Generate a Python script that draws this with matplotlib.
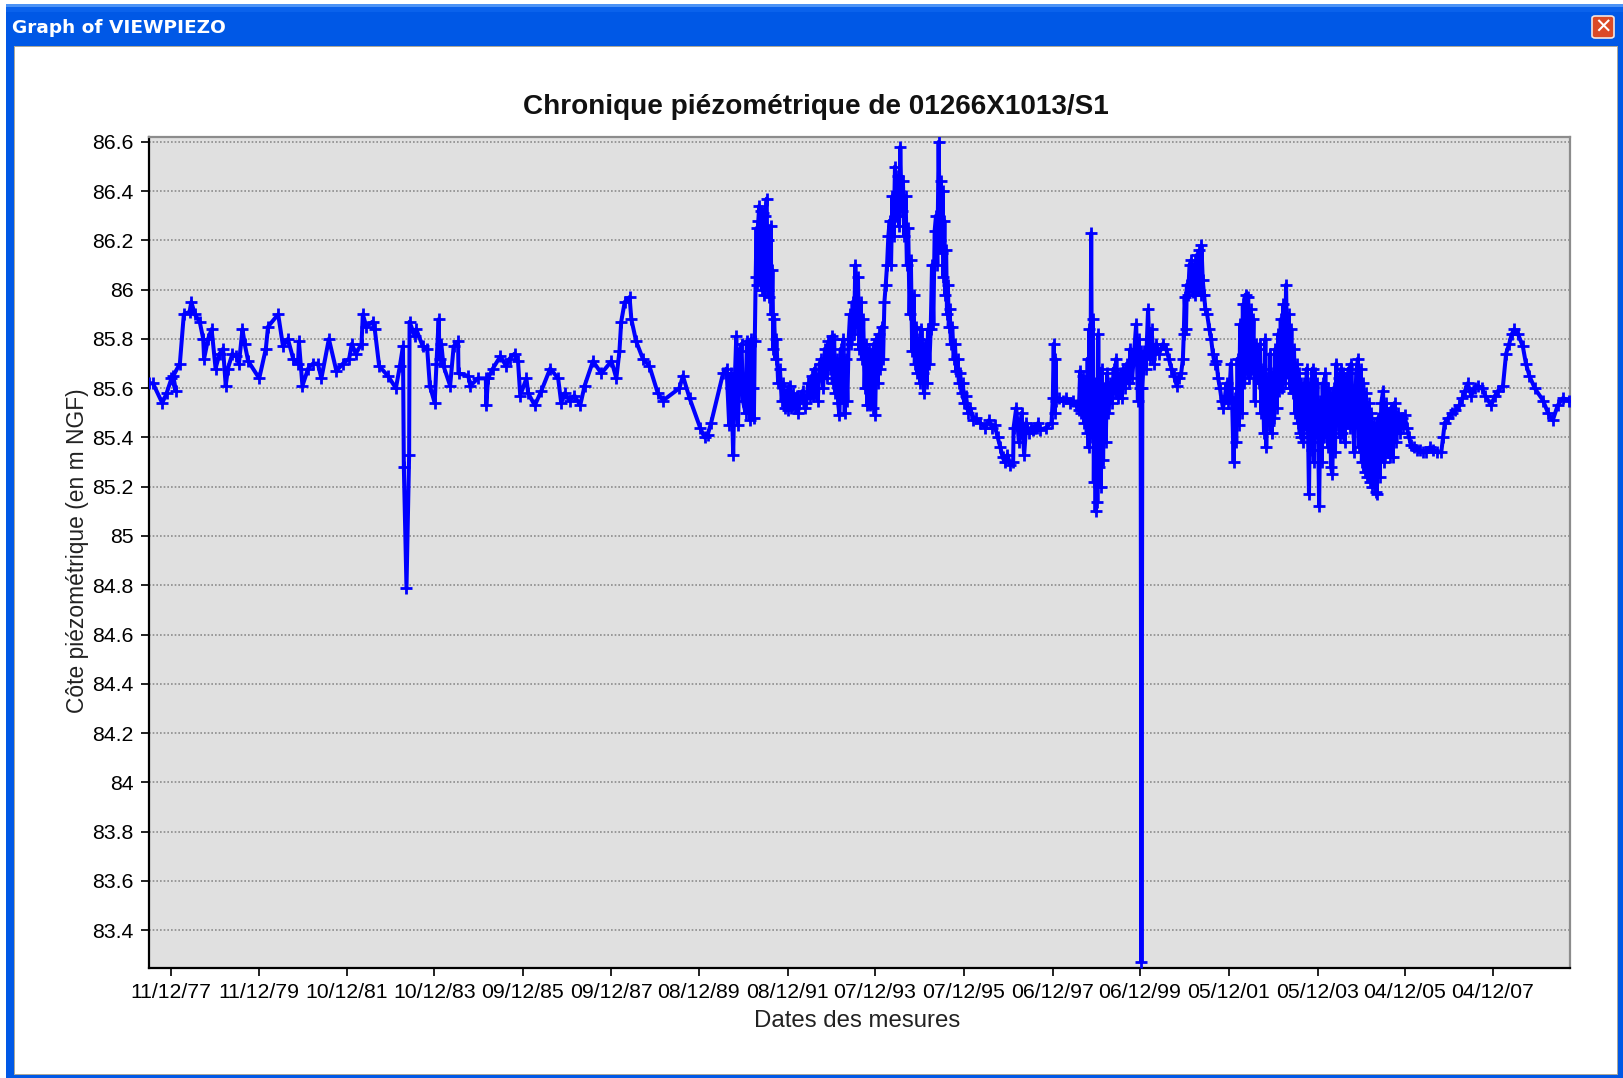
import matplotlib
matplotlib.use("Agg")
import matplotlib.pyplot as plt
from matplotlib.patches import Rectangle, FancyBboxPatch

# Water level readings (decimal year, m NGF)
years_1977 = [1977.45, 1977.54, 1977.75, 1977.85, 1977.96, 1978.06, 1978.0, 1978.15, 1978.24, 1978.37, 1978.41, 1978.49, 1978.60, 1978.68, 1978.70, 1978.79, 1978.87, 1978.96, 1979.05, 1979.13, 1979.19, 1979.24, 1979.34, 1979.43, 1979.49, 1979.57, 1979.62, 1979.70, 1979.95, 1980.10, 1980.15, 1980.38, 1980.49, 1980.60, 1980.72, 1980.83, 1980.85, 1980.93, 1981.06, 1981.17, 1981.28, 1981.36, 1981.53, 1981.70, 1981.85, 1981.99, 1982.05, 1982.14, 1982.27, 1982.30, 1982.38, 1982.52, 1982.57, 1982.67, 1982.87, 1983.05, 1983.14, 1983.21, 1983.23, 1983.29, 1983.35, 1983.36, 1983.48, 1983.51, 1983.66, 1983.76, 1983.82, 1983.93, 1983.97, 1984.02, 1984.04, 1984.08, 1984.13, 1984.28, 1984.36, 1984.46, 1984.47, 1984.69, 1984.74, 1984.91, 1985.09, 1985.10, 1985.14, 1985.25, 1985.42, 1985.55, 1985.63, 1985.74, 1985.82, 1985.87, 1986.01, 1986.05, 1986.20, 1986.35, 1986.55, 1986.73, 1986.80, 1986.88, 1986.99, 1987.10, 1987.23, 1987.33, 1987.52, 1987.71, 1987.94, 1988.05, 1988.12, 1988.16, 1988.24, 1988.35, 1988.39, 1988.50, 1988.65, 1988.80, 1988.99]
levels_1977 = [85.62, 85.62, 85.54, 85.58, 85.64, 85.59, 85.65, 85.70, 85.90, 85.91, 85.95, 85.90, 85.87, 85.80, 85.72, 85.80, 85.84, 85.68, 85.74, 85.76, 85.61, 85.68, 85.74, 85.73, 85.70, 85.84, 85.78, 85.71, 85.64, 85.76, 85.85, 85.90, 85.77, 85.80, 85.72, 85.70, 85.79, 85.61, 85.68, 85.70, 85.70, 85.64, 85.80, 85.67, 85.70, 85.72, 85.78, 85.74, 85.78, 85.90, 85.85, 85.87, 85.84, 85.69, 85.65, 85.60, 85.69, 85.77, 85.28, 84.79, 85.33, 85.87, 85.81, 85.84, 85.77, 85.76, 85.61, 85.54, 85.70, 85.88, 85.72, 85.78, 85.69, 85.61, 85.77, 85.79, 85.66, 85.65, 85.61, 85.64, 85.64, 85.53, 85.64, 85.68, 85.73, 85.69, 85.72, 85.74, 85.71, 85.57, 85.64, 85.58, 85.53, 85.59, 85.68, 85.64, 85.54, 85.58, 85.55, 85.57, 85.53, 85.61, 85.71, 85.66, 85.71, 85.64, 85.75, 85.87, 85.95, 85.97, 85.88, 85.79, 85.72, 85.69, 85.58]

years_1989 = [1989.11, 1989.48, 1989.56, 1989.71, 1989.95, 1990.05, 1990.12, 1990.20, 1990.47, 1990.55, 1990.61, 1990.64, 1990.66, 1990.70, 1990.73, 1990.77, 1990.81, 1990.85, 1990.89, 1990.92, 1990.98, 1991.01, 1991.06, 1991.09, 1991.11, 1991.15, 1991.17, 1991.19, 1991.21, 1991.23, 1991.25, 1991.27, 1991.29, 1991.31, 1991.33, 1991.35, 1991.37, 1991.39, 1991.41, 1991.43, 1991.46, 1991.48, 1991.50, 1991.52, 1991.55, 1991.57, 1991.59, 1991.61, 1991.63, 1991.66, 1991.68, 1991.72, 1991.76, 1991.80, 1991.84, 1991.88, 1991.92, 1991.94, 1991.98, 1992.02, 1992.06, 1992.10, 1992.14, 1992.17, 1992.22, 1992.28, 1992.32, 1992.36, 1992.40, 1992.44, 1992.48, 1992.51, 1992.55, 1992.58, 1992.62, 1992.66, 1992.70, 1992.74, 1992.78, 1992.82, 1992.86, 1992.90, 1992.93, 1992.96, 1992.99, 1993.02, 1993.05, 1993.08, 1993.11, 1993.14, 1993.17, 1993.20, 1993.23, 1993.26, 1993.29, 1993.32, 1993.35, 1993.38, 1993.41, 1993.44, 1993.47, 1993.50, 1993.53, 1993.56, 1993.59, 1993.62, 1993.65, 1993.68, 1993.71, 1993.74, 1993.77, 1993.80, 1993.83, 1993.86, 1993.89, 1993.92, 1993.95, 1993.98, 1994.01, 1994.04, 1994.07, 1994.10, 1994.13, 1994.16, 1994.19, 1994.22, 1994.25, 1994.28, 1994.31, 1994.34, 1994.37, 1994.40, 1994.43, 1994.46, 1994.49, 1994.52, 1994.55, 1994.58, 1994.61, 1994.64, 1994.67, 1994.70, 1994.73, 1994.76, 1994.79, 1994.82, 1994.85, 1994.88, 1994.91, 1994.94, 1994.97, 1995.00, 1995.03, 1995.06, 1995.09, 1995.12, 1995.15, 1995.18, 1995.21, 1995.24, 1995.27, 1995.30, 1995.33, 1995.36, 1995.39, 1995.41, 1995.43, 1995.45, 1995.47, 1995.49, 1995.51, 1995.53, 1995.55, 1995.57, 1995.59, 1995.61, 1995.64, 1995.67, 1995.70, 1995.73, 1995.76, 1995.79, 1995.82, 1995.85, 1995.88, 1995.91, 1995.94, 1995.98, 1996.03, 1996.08, 1996.14, 1996.20, 1996.30, 1996.42, 1996.50, 1996.58, 1996.63, 1996.70, 1996.76, 1996.81, 1996.86, 1996.92, 1996.98, 1997.05, 1997.06, 1997.12, 1997.18, 1997.24, 1997.30, 1997.35, 1997.40, 1997.46, 1997.50, 1997.54, 1997.58, 1997.62]
levels_1989 = [85.55, 85.60, 85.65, 85.56, 85.44, 85.40, 85.41, 85.46, 85.66, 85.68, 85.45, 85.66, 85.60, 85.33, 85.60, 85.81, 85.45, 85.75, 85.78, 85.55, 85.50, 85.79, 85.55, 85.47, 85.80, 85.60, 85.48, 85.79, 86.05, 86.25, 86.02, 86.28, 86.34, 86.06, 86.32, 86.00, 86.31, 86.10, 85.98, 86.30, 86.37, 86.00, 86.20, 85.97, 86.26, 85.90, 86.08, 85.76, 85.88, 85.72, 85.80, 85.62, 85.68, 85.55, 85.62, 85.52, 85.59, 85.51, 85.61, 85.52, 85.58, 85.52, 85.57, 85.50, 85.56, 85.59, 85.52, 85.54, 85.62, 85.56, 85.65, 85.57, 85.68, 85.60, 85.55, 85.70, 85.72, 85.60, 85.76, 85.64, 85.79, 85.68, 85.81, 85.62, 85.80, 85.58, 85.72, 85.54, 85.49, 85.76, 85.56, 85.80, 85.50, 85.72, 85.55, 85.80, 85.90, 85.78, 85.95, 85.82, 86.10, 85.85, 86.05, 85.76, 85.95, 85.72, 85.88, 85.60, 85.78, 85.53, 85.76, 85.53, 85.74, 85.52, 85.78, 85.49, 85.80, 85.62, 85.82, 85.68, 85.85, 85.72, 85.95, 86.02, 86.10, 86.22, 86.28, 86.10, 86.38, 86.22, 86.50, 86.30, 86.46, 86.26, 86.58, 86.32, 86.44, 86.22, 86.38, 86.10, 86.25, 85.90, 86.12, 85.75, 85.98, 85.70, 85.85, 85.66, 85.80, 85.62, 85.84, 85.66, 85.58, 85.78, 85.62, 85.84, 85.70, 85.84, 86.10, 85.86, 86.24, 86.30, 86.10, 86.60, 86.20, 86.44, 86.15, 86.40, 86.05, 86.28, 85.98, 86.16, 85.90, 86.02, 85.85, 85.92, 85.78, 85.85, 85.72, 85.78, 85.67, 85.72, 85.62, 85.66, 85.58, 85.62, 85.54, 85.57, 85.50, 85.52, 85.47, 85.48, 85.46, 85.44, 85.47, 85.44, 85.45, 85.40, 85.36, 85.32, 85.30, 85.33, 85.29, 85.30, 85.44, 85.52, 85.38, 85.50, 85.33, 85.46, 85.42, 85.44, 85.43, 85.44, 85.44, 85.46]

years_1997 = [1997.65, 1997.80, 1997.92, 1997.95, 1997.97, 1997.99, 1998.01, 1998.03, 1998.10, 1998.18, 1998.26, 1998.34, 1998.41, 1998.48, 1998.54, 1998.57, 1998.60, 1998.63, 1998.66, 1998.69, 1998.72, 1998.74, 1998.76, 1998.78, 1998.80, 1998.82, 1998.84, 1998.86, 1998.88, 1998.90, 1998.92, 1998.94, 1998.96, 1998.98, 1999.00, 1999.02, 1999.04, 1999.06, 1999.09, 1999.12, 1999.15, 1999.18, 1999.21, 1999.25, 1999.29, 1999.33, 1999.36, 1999.39, 1999.43, 1999.47, 1999.51, 1999.55, 1999.59, 1999.63, 1999.67, 1999.71, 1999.75, 1999.79, 1999.84, 1999.88, 1999.90, 1999.92, 1999.94, 1999.96, 1999.98, 2000.02, 2000.06, 2000.11, 2000.15, 2000.19, 2000.24, 2000.30, 2000.36, 2000.45, 2000.52, 2000.58, 2000.64, 2000.70, 2000.76, 2000.81, 2000.86, 2000.90, 2000.92, 2000.94, 2000.97, 2000.99, 2001.02, 2001.05, 2001.09, 2001.12, 2001.15, 2001.18, 2001.21, 2001.24, 2001.27, 2001.30, 2001.32, 2001.35, 2001.38, 2001.41, 2001.45, 2001.50, 2001.54, 2001.58, 2001.62, 2001.66, 2001.70, 2001.74, 2001.78, 2001.81, 2001.85, 2001.89, 2001.93, 2001.96, 2001.99, 2002.02, 2002.05, 2002.08, 2002.11, 2002.14, 2002.17, 2002.20, 2002.23, 2002.26, 2002.29, 2002.32, 2002.35, 2002.38, 2002.41, 2002.44, 2002.47, 2002.50, 2002.53, 2002.56, 2002.59, 2002.62, 2002.65, 2002.68, 2002.71, 2002.74, 2002.77, 2002.79, 2002.82, 2002.85, 2002.88, 2002.91, 2002.94, 2002.97, 2003.00, 2003.03, 2003.06, 2003.09, 2003.12, 2003.15, 2003.18, 2003.21, 2003.24, 2003.27, 2003.30, 2003.33, 2003.36, 2003.39, 2003.42, 2003.45, 2003.48, 2003.51, 2003.53, 2003.55, 2003.57, 2003.59, 2003.61, 2003.63]
levels_1997 = [85.43, 85.44, 85.46, 85.56, 85.78, 85.50, 85.72, 85.55, 85.56, 85.55, 85.56, 85.54, 85.55, 85.53, 85.51, 85.67, 85.50, 85.65, 85.46, 85.62, 85.42, 85.72, 85.36, 85.84, 85.48, 86.23, 85.40, 85.88, 85.22, 85.62, 85.10, 85.58, 85.14, 85.82, 85.28, 85.55, 85.20, 85.68, 85.31, 85.60, 85.38, 85.66, 85.50, 85.62, 85.54, 85.68, 85.58, 85.72, 85.56, 85.66, 85.56, 85.68, 85.60, 85.70, 85.62, 85.76, 85.64, 85.74, 85.86, 85.55, 85.80, 85.60, 85.75, 83.27, 85.60, 85.75, 85.68, 85.92, 85.72, 85.84, 85.70, 85.78, 85.74, 85.78, 85.76, 85.72, 85.68, 85.65, 85.61, 85.64, 85.66, 85.72, 85.82, 85.97, 85.84, 86.02, 85.98, 86.10, 86.12, 85.99, 86.10, 85.98, 86.14, 86.00, 86.16, 85.98, 86.18, 86.04, 85.98, 85.92, 85.90, 85.84, 85.80, 85.74, 85.70, 85.71, 85.64, 85.60, 85.55, 85.52, 85.56, 85.62, 85.54, 85.60, 85.70, 85.52, 85.30, 85.56, 85.38, 85.72, 85.45, 85.86, 85.50, 85.94, 85.62, 85.98, 85.66, 85.97, 85.64, 85.92, 85.68, 85.88, 85.55, 85.78, 85.76, 85.62, 85.78, 85.50, 85.68, 85.42, 85.80, 85.36, 85.64, 85.45, 85.74, 85.42, 85.66, 85.48, 85.76, 85.52, 85.82, 85.59, 85.88, 85.60, 85.94, 85.62, 86.02, 85.66, 85.90, 85.60, 85.84, 85.58, 85.76, 85.50, 85.70, 85.46, 85.66, 85.42, 85.62, 85.40, 85.60, 85.38]

years_2003 = [2003.65, 2003.68, 2003.71, 2003.74, 2003.76, 2003.79, 2003.82, 2003.84, 2003.87, 2003.89, 2003.92, 2003.95, 2003.97, 2003.99, 2004.02, 2004.05, 2004.07, 2004.10, 2004.13, 2004.15, 2004.18, 2004.20, 2004.23, 2004.26, 2004.29, 2004.32, 2004.35, 2004.38, 2004.41, 2004.43, 2004.46, 2004.49, 2004.52, 2004.54, 2004.57, 2004.60, 2004.63, 2004.66, 2004.69, 2004.72, 2004.75, 2004.79, 2004.83, 2004.87, 2004.90, 2004.93, 2004.96, 2004.99, 2005.02, 2005.05, 2005.08, 2005.11, 2005.14, 2005.17, 2005.20, 2005.23, 2005.27, 2005.30, 2005.33, 2005.36, 2005.40, 2005.44, 2005.47, 2005.50, 2005.53, 2005.56, 2005.59, 2005.62, 2005.66, 2005.70, 2005.74, 2005.78, 2005.82, 2005.86, 2005.90, 2005.93, 2005.98, 2006.03, 2006.08, 2006.14, 2006.20, 2006.27, 2006.34, 2006.42, 2006.50, 2006.58, 2006.66, 2006.76, 2006.80, 2006.84, 2006.92, 2007.00, 2007.08, 2007.17, 2007.24, 2007.30, 2007.36, 2007.44, 2007.52, 2007.59, 2007.68, 2007.76, 2007.89, 2007.98, 2008.05, 2008.16, 2008.23, 2008.30, 2008.36, 2008.42, 2008.50, 2008.61, 2008.68, 2008.76, 2008.88, 2009.07, 2009.18, 2009.29, 2009.40, 2009.52, 2009.65]
levels_2003 = [85.62, 85.45, 85.68, 85.40, 85.17, 85.62, 85.35, 85.68, 85.30, 85.66, 85.42, 85.62, 85.38, 85.12, 85.55, 85.30, 85.62, 85.40, 85.66, 85.44, 85.60, 85.36, 85.58, 85.28, 85.25, 85.60, 85.34, 85.70, 85.45, 85.64, 85.40, 85.68, 85.42, 85.66, 85.38, 85.64, 85.46, 85.68, 85.44, 85.70, 85.50, 85.34, 85.66, 85.72, 85.36, 85.68, 85.30, 85.62, 85.26, 85.58, 85.24, 85.54, 85.22, 85.50, 85.20, 85.46, 85.18, 85.17, 85.48, 85.24, 85.54, 85.59, 85.30, 85.54, 85.34, 85.50, 85.32, 85.52, 85.32, 85.54, 85.38, 85.50, 85.42, 85.48, 85.44, 85.49, 85.44, 85.40, 85.37, 85.36, 85.35, 85.35, 85.34, 85.34, 85.36, 85.35, 85.34, 85.34, 85.40, 85.46, 85.48, 85.50, 85.51, 85.53, 85.56, 85.59, 85.62, 85.57, 85.60, 85.61, 85.60, 85.57, 85.53, 85.57, 85.59, 85.61, 85.74, 85.78, 85.82, 85.84, 85.82, 85.77, 85.70, 85.65, 85.60, 85.55, 85.50, 85.47, 85.53, 85.56, 85.55]

years = years_1977 + years_1989 + years_1997 + years_2003
levels = levels_1977 + levels_1989 + levels_1997 + levels_2003

tick_years = [1977.94, 1979.94, 1981.94, 1983.92, 1985.93, 1987.94, 1989.92, 1991.94, 1993.91, 1995.93, 1997.95, 1999.92, 2001.94, 2003.96, 2005.93, 2007.93]
tick_dates = ["11/12/77", "11/12/79", "10/12/81", "10/12/83", "09/12/85", "09/12/87", "08/12/89", "08/12/91", "07/12/93", "07/12/95", "06/12/97", "06/12/99", "05/12/01", "05/12/03", "04/12/05", "04/12/07"]
level_ticks = [83.4, 83.6, 83.8, 84, 84.2, 84.4, 84.6, 84.8, 85, 85.2, 85.4, 85.6, 85.8, 86, 86.2, 86.4, 86.6]
level_labels = ["83.4", "83.6", "83.8", "84", "84.2", "84.4", "84.6", "84.8", "85", "85.2", "85.4", "85.6", "85.8", "86", "86.2", "86.4", "86.6"]

W, H = 1623, 1078
plt.rcParams["font.family"] = ["Liberation Sans", "DejaVu Sans"]
fig = plt.figure(figsize=(W / 100, H / 100), dpi=100, facecolor="white")


def box(x0, y0, x1, y1, color):
    # rectangle in pixels, measured from the top left
    fig.add_artist(Rectangle((x0 / W, 1 - y1 / H), (x1 - x0) / W, (y1 - y0) / H,
                             transform=fig.transFigure, facecolor=color, edgecolor="none"))


# Window frame
box(6, 4, W, H, "#0058E6")
box(6, 4, W, 7, "#4C93F5")
box(6, 7, W, 12, "#0A62EC")
box(14, 46, 1618, 1075, "#ACA899")
box(15, 47, 1617, 1074, "white")
fig.text(12 / W, 1 - 28 / H, "Graph of VIEWPIEZO", color="white", fontsize=13.3, fontweight="bold",
         family=["DejaVu Sans"], va="center", ha="left")
fig.add_artist(FancyBboxPatch((1592 / W, 1 - 38 / H), 22 / W, 22 / H, transform=fig.transFigure,
                              boxstyle="round,pad=0,rounding_size=0.002", facecolor="#DB4A26",
                              edgecolor="#F4E6E0", linewidth=1.2))
fig.text(1603 / W, 1 - 27.5 / H, "✕", color="white", fontsize=15, fontweight="bold",
         family=["DejaVu Sans"], ha="center", va="center")

ax = fig.add_axes([149 / W, 1 - 968 / H, (1570 - 149) / W, (968 - 137) / H])
# the frame patches sit at figure level, keep the axes above them
ax.set_zorder(5)
ax.set_facecolor("#E0E0E0")
ax.plot(years, levels, color="#0000FF", linewidth=2.9, marker="+", markersize=8.5, markeredgewidth=2.0, zorder=3)

ax.set_xlim(1977.45, 2009.68)
ax.set_ylim(83.246, 86.62)
ax.set_xticks(tick_years)
ax.set_xticklabels(tick_dates)
ax.set_yticks(level_ticks)
ax.set_yticklabels(level_labels)
ax.tick_params(axis="both", direction="out", length=6, width=1.4, labelsize=15.3, color="#222222", pad=5)
ax.grid(axis="y", color="#8C8C8C", linestyle=(0, (1, 1.2)), linewidth=1.2, zorder=1)
ax.set_axisbelow(True)

ax.spines["left"].set_linewidth(1.6)
ax.spines["bottom"].set_linewidth(1.6)
ax.spines["top"].set_linewidth(1.6)
ax.spines["right"].set_linewidth(1.6)
ax.spines["top"].set_color("#8C8C8C")
ax.spines["right"].set_color("#8C8C8C")

fig.text(816 / W, 1 - 107 / H, "Chronique piézométrique de 01266X1013/S1", fontsize=20.1, fontweight="bold",
         ha="center", va="center", color="#111111")
fig.text(857 / W, 1 - 1021 / H, "Dates des mesures", fontsize=17.3, ha="center", va="center", color="#222222")
fig.text(78 / W, 1 - 551 / H, "Côte piézométrique (en m NGF)", fontsize=16.4, rotation=90,
         ha="center", va="center", color="#222222")

plt.savefig("out.png", dpi=100)
plt.close()
